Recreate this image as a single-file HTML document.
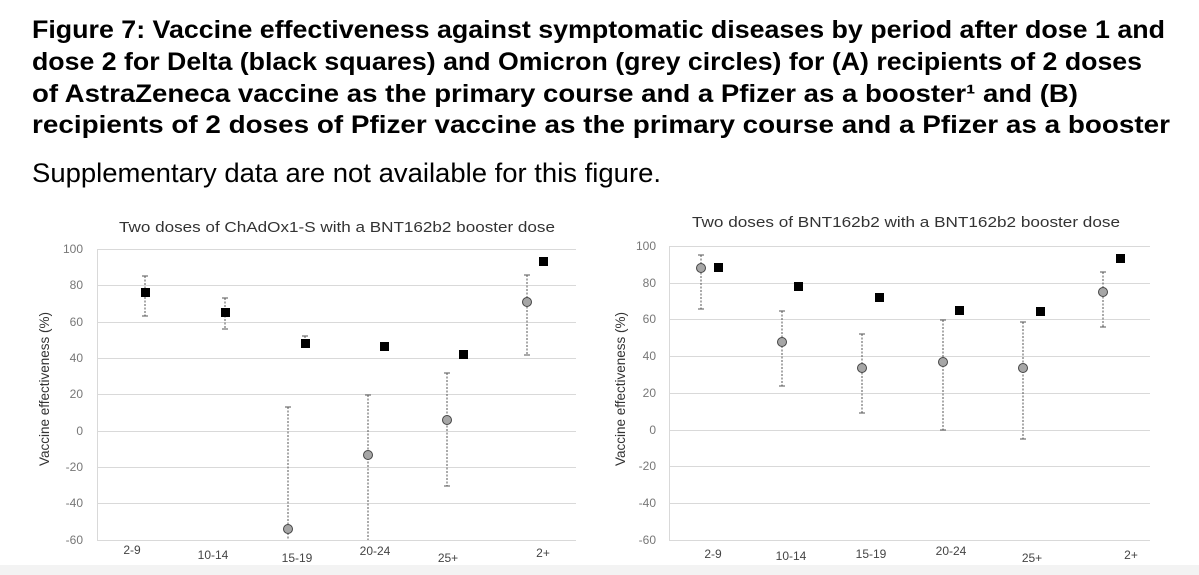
<!DOCTYPE html>
<html><head><meta charset="utf-8"><style>
html,body{margin:0;padding:0;background:#fff;}
svg{display:block;}
</style></head><body>
<svg width="1199" height="575" xmlns="http://www.w3.org/2000/svg" font-family="Liberation Sans, Arial, sans-serif">
<rect width="1199" height="575" fill="#fff"/>
<rect x="0" y="565" width="1199" height="10" fill="#f3f3f3"/>
<g font-weight="bold" font-size="25" fill="#000">
<text x="32" y="38" textLength="1133" lengthAdjust="spacingAndGlyphs">Figure 7: Vaccine effectiveness against symptomatic diseases by period after dose 1 and</text>
<text x="32" y="70" textLength="1110" lengthAdjust="spacingAndGlyphs">dose 2 for Delta (black squares) and Omicron (grey circles) for (A) recipients of 2 doses</text>
<text x="32" y="102" textLength="1046" lengthAdjust="spacingAndGlyphs">of AstraZeneca vaccine as the primary course and a Pfizer as a booster¹ and (B)</text>
<text x="32" y="133" textLength="1138" lengthAdjust="spacingAndGlyphs">recipients of 2 doses of Pfizer vaccine as the primary course and a Pfizer as a booster</text>
</g>
<text x="32" y="182" font-size="27" fill="#000" textLength="629" lengthAdjust="spacingAndGlyphs">Supplementary data are not available for this figure.</text>

<!-- Left chart -->
<g>
<text x="119" y="232" font-size="15" fill="#333" textLength="436" lengthAdjust="spacingAndGlyphs">Two doses of ChAdOx1-S with a BNT162b2 booster dose</text>
<g stroke="#d9d9d9" stroke-width="1">
<line x1="97" x2="576" y1="249.5" y2="249.5"/><line x1="97" x2="576" y1="285.5" y2="285.5"/><line x1="97" x2="576" y1="322.5" y2="322.5"/><line x1="97" x2="576" y1="358.5" y2="358.5"/><line x1="97" x2="576" y1="394.5" y2="394.5"/><line x1="97" x2="576" y1="431.5" y2="431.5"/><line x1="97" x2="576" y1="467.5" y2="467.5"/><line x1="97" x2="576" y1="503.5" y2="503.5"/><line x1="97" x2="576" y1="540.5" y2="540.5"/>
<line x1="97.5" x2="97.5" y1="249" y2="541"/>
</g>
<g font-size="12" fill="#777" text-anchor="end">
<text x="83" y="253">100</text><text x="83" y="289">80</text><text x="83" y="326">60</text><text x="83" y="362">40</text><text x="83" y="398">20</text><text x="83" y="435">0</text><text x="83" y="471">-20</text><text x="83" y="507">-40</text><text x="83" y="544">-60</text>
</g>
<text transform="translate(49,389) rotate(-90)" font-size="13.5" fill="#333" text-anchor="middle">Vaccine effectiveness (%)</text>
<g font-size="12" fill="#444" text-anchor="middle">
<text x="132" y="554">2-9</text><text x="213" y="559">10-14</text><text x="297" y="562">15-19</text><text x="375" y="555">20-24</text><text x="448" y="562">25+</text><text x="543" y="557">2+</text>
</g>
<g stroke="#555" stroke-width="1" stroke-dasharray="2,1.5" fill="none">
<line x1="145" x2="145" y1="276" y2="316"/><line x1="225" x2="225" y1="298" y2="329"/><line x1="305" x2="305" y1="336" y2="347"/>
<line x1="288" x2="288" y1="407" y2="540"/><line x1="368" x2="368" y1="395" y2="540"/><line x1="447" x2="447" y1="373" y2="486"/><line x1="527" x2="527" y1="275" y2="355"/>
</g>
<g stroke="#555" stroke-width="1">
<line x1="142" x2="148" y1="276" y2="276"/><line x1="142" x2="148" y1="316" y2="316"/>
<line x1="222" x2="228" y1="298" y2="298"/><line x1="222" x2="228" y1="329" y2="329"/>
<line x1="302" x2="308" y1="336" y2="336"/><line x1="285" x2="291" y1="407" y2="407"/>
<line x1="365" x2="371" y1="395" y2="395"/><line x1="444" x2="450" y1="373" y2="373"/><line x1="444" x2="450" y1="486" y2="486"/>
<line x1="524" x2="530" y1="275" y2="275"/><line x1="524" x2="530" y1="355" y2="355"/>
</g>
<g fill="#000">
<rect x="141" y="288" width="9" height="9"/><rect x="221" y="308" width="9" height="9"/><rect x="301" y="339" width="9" height="9"/><rect x="380" y="342" width="9" height="9"/><rect x="459" y="350" width="9" height="9"/><rect x="539" y="257" width="9" height="9"/>
</g>
<g fill="#a6a6a6" stroke="#444" stroke-width="1">
<circle cx="288" cy="529" r="4.5"/><circle cx="368" cy="455" r="4.5"/><circle cx="447" cy="420" r="4.5"/><circle cx="527" cy="302" r="4.5"/>
</g>
</g>

<!-- Right chart -->
<g>
<text x="692" y="227" font-size="15" fill="#333" textLength="428" lengthAdjust="spacingAndGlyphs">Two doses of BNT162b2 with a BNT162b2 booster dose</text>
<g stroke="#d9d9d9" stroke-width="1">
<line x1="669" x2="1150" y1="246.5" y2="246.5"/><line x1="669" x2="1150" y1="283.5" y2="283.5"/><line x1="669" x2="1150" y1="319.5" y2="319.5"/><line x1="669" x2="1150" y1="356.5" y2="356.5"/><line x1="669" x2="1150" y1="393.5" y2="393.5"/><line x1="669" x2="1150" y1="430.5" y2="430.5"/><line x1="669" x2="1150" y1="466.5" y2="466.5"/><line x1="669" x2="1150" y1="503.5" y2="503.5"/><line x1="669" x2="1150" y1="540.5" y2="540.5"/>
<line x1="669.5" x2="669.5" y1="246" y2="541"/>
</g>
<g font-size="12" fill="#777" text-anchor="end">
<text x="656" y="250">100</text><text x="656" y="287">80</text><text x="656" y="323">60</text><text x="656" y="360">40</text><text x="656" y="397">20</text><text x="656" y="434">0</text><text x="656" y="470">-20</text><text x="656" y="507">-40</text><text x="656" y="544">-60</text>
</g>
<text transform="translate(625,389) rotate(-90)" font-size="13.5" fill="#333" text-anchor="middle">Vaccine effectiveness (%)</text>
<g font-size="12" fill="#444" text-anchor="middle">
<text x="713" y="558">2-9</text><text x="791" y="560">10-14</text><text x="871" y="558">15-19</text><text x="951" y="555">20-24</text><text x="1032" y="562">25+</text><text x="1131" y="559">2+</text>
</g>
<g stroke="#555" stroke-width="1" stroke-dasharray="2,1.5" fill="none">
<line x1="701" x2="701" y1="255" y2="309"/><line x1="782" x2="782" y1="311" y2="386"/><line x1="862" x2="862" y1="334" y2="413"/><line x1="943" x2="943" y1="320" y2="430"/><line x1="1023" x2="1023" y1="322" y2="439"/><line x1="1103" x2="1103" y1="272" y2="327"/>
</g>
<g stroke="#555" stroke-width="1">
<line x1="698" x2="704" y1="255" y2="255"/><line x1="698" x2="704" y1="309" y2="309"/>
<line x1="779" x2="785" y1="311" y2="311"/><line x1="779" x2="785" y1="386" y2="386"/>
<line x1="859" x2="865" y1="334" y2="334"/><line x1="859" x2="865" y1="413" y2="413"/>
<line x1="940" x2="946" y1="320" y2="320"/><line x1="940" x2="946" y1="430" y2="430"/>
<line x1="1020" x2="1026" y1="322" y2="322"/><line x1="1020" x2="1026" y1="439" y2="439"/>
<line x1="1100" x2="1106" y1="272" y2="272"/><line x1="1100" x2="1106" y1="327" y2="327"/>
</g>
<g fill="#000">
<rect x="714" y="263" width="9" height="9"/><rect x="794" y="282" width="9" height="9"/><rect x="875" y="293" width="9" height="9"/><rect x="955" y="306" width="9" height="9"/><rect x="1036" y="307" width="9" height="9"/><rect x="1116" y="254" width="9" height="9"/>
</g>
<g fill="#a6a6a6" stroke="#444" stroke-width="1">
<circle cx="701" cy="268" r="4.5"/><circle cx="782" cy="342" r="4.5"/><circle cx="862" cy="368" r="4.5"/><circle cx="943" cy="362" r="4.5"/><circle cx="1023" cy="368" r="4.5"/><circle cx="1103" cy="292" r="4.5"/>
</g>
</g>
</svg>
</body></html>
